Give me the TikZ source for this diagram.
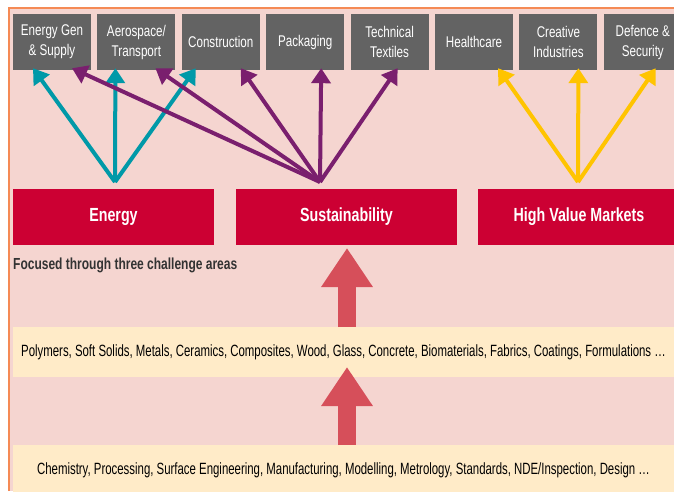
\documentclass[tikz,border=0pt]{standalone}
\usepackage{fontspec}
\setmainfont{Liberation Sans}[FakeStretch=0.75]
\newfontfamily\bandfont{Liberation Sans}[FakeStretch=0.7]
\usetikzlibrary{arrows.meta,positioning}
\definecolor{PinkBg}{HTML}{F5D5D0}
\definecolor{FrameOrange}{HTML}{F58A55}
\definecolor{SectorGrey}{HTML}{636363}
\definecolor{AreaRed}{HTML}{CC0033}
\definecolor{BandCream}{HTML}{FFEBC8}
\definecolor{LinkTeal}{HTML}{0099A8}
\definecolor{LinkPurple}{HTML}{7A1F6E}
\definecolor{LinkYellow}{HTML}{FFC400}
\definecolor{BigRed}{HTML}{D64F5A}

\begin{document}
\begin{tikzpicture}[x=1pt,y=-1pt,
  sector/.style={fill=SectorGrey,text=white,align=center,minimum width=78pt,minimum height=56pt,inner sep=0pt,font=\fontsize{15.5}{20}\selectfont},
  area/.style={fill=AreaRed,text=white,minimum height=56pt,inner sep=0pt,font=\fontsize{19}{22}\selectfont\bfseries},
  band/.style={fill=BandCream,minimum width=661pt,inner sep=0pt,font=\bandfont\fontsize{16.3}{19}\selectfont},
  link/.style={-{Triangle[length=15pt,width=19pt]},line width=4pt},
  bigarr/.style={-{Triangle[length=39pt,width=49pt]},line width=18pt,BigRed}
]
\clip (0,0) rectangle (674,491);
\fill[white] (0,0) rectangle (674,491);
\fill[PinkBg] (9,8) rectangle (674,491);
\draw[FrameOrange,line width=1.2pt] (9,491) -- (9,8) -- (674,8);

% sectors along the top
\node[sector] (gen) at (52,42) {Energy Gen\\\& Supply};
\node[sector,right=6pt of gen] (aero) {Aerospace/\\Transport};
\node[sector,right=6pt of aero] (constr) {Construction};
\node[sector,right=6pt of constr] (pack) {Packaging};
\node[sector,right=6pt of pack] (textile) {Technical\\Textiles};
\node[sector,right=6pt of textile] (health) {Healthcare};
\node[sector,right=6pt of health] (creative) {Creative\\Industries};
\node[sector,right=6pt of creative] (defence) {Defence \&\\Security};

% challenge areas
\node[area,minimum width=201pt] (energy) at (113.5,217) {Energy};
\node[area,minimum width=221pt] (sustain) at (346.5,217) {Sustainability};
\node[area,minimum width=202pt] (hvm) at (579,217) {High Value Markets};
\node[anchor=west,inner sep=0pt,text=black!80,font=\fontsize{16}{18}\selectfont\bfseries] (focus) at (13,265) {Focused through three challenge areas};

% materials and capabilities
\node[band,minimum height=50pt] (materials) at (343.5,352) {Polymers, Soft Solids, Metals, Ceramics, Composites, Wood, Glass, Concrete, Biomaterials, Fabrics, Coatings, Formulations \dots};
\node[band,minimum height=50pt] (skills) at (343.5,470) {Chemistry, Processing, Surface Engineering, Manufacturing, Modelling, Metrology, Standards, NDE/Inspection, Design \dots};

% links to sectors
\coordinate (tealsrc) at (115,182);
\coordinate (purplesrc) at (320,182);
\coordinate (yellowsrc) at (578,182);
\draw[link,LinkTeal] (tealsrc) -- ([xshift=-19pt,yshift=2pt]gen.south);
\draw[link,LinkTeal] (tealsrc) -- ([xshift=-21pt,yshift=2pt]aero.south);
\draw[link,LinkTeal] (tealsrc) -- ([xshift=-25pt,yshift=2pt]constr.south);
\draw[link,LinkPurple] (purplesrc) -- ([xshift=20pt,yshift=2pt]gen.south);
\draw[link,LinkPurple] (purplesrc) -- ([xshift=19pt,yshift=2pt]aero.south);
\draw[link,LinkPurple] (purplesrc) -- ([xshift=20pt,yshift=2pt]constr.south);
\draw[link,LinkPurple] (purplesrc) -- ([xshift=16pt,yshift=2pt]pack.south);
\draw[link,LinkPurple] (purplesrc) -- ([xshift=8pt,yshift=2pt]textile.south);
\draw[link,LinkYellow] (yellowsrc) -- ([xshift=24pt,yshift=2pt]health.south);
\draw[link,LinkYellow] (yellowsrc) -- ([xshift=20pt,yshift=2pt]creative.south);
\draw[link,LinkYellow] (yellowsrc) -- ([xshift=13pt,yshift=2pt]defence.south);

% big arrows upward
\draw[bigarr] (347,327) -- (347,248);
\draw[bigarr] (347,445) -- (347,367);
\end{tikzpicture}
\end{document}
